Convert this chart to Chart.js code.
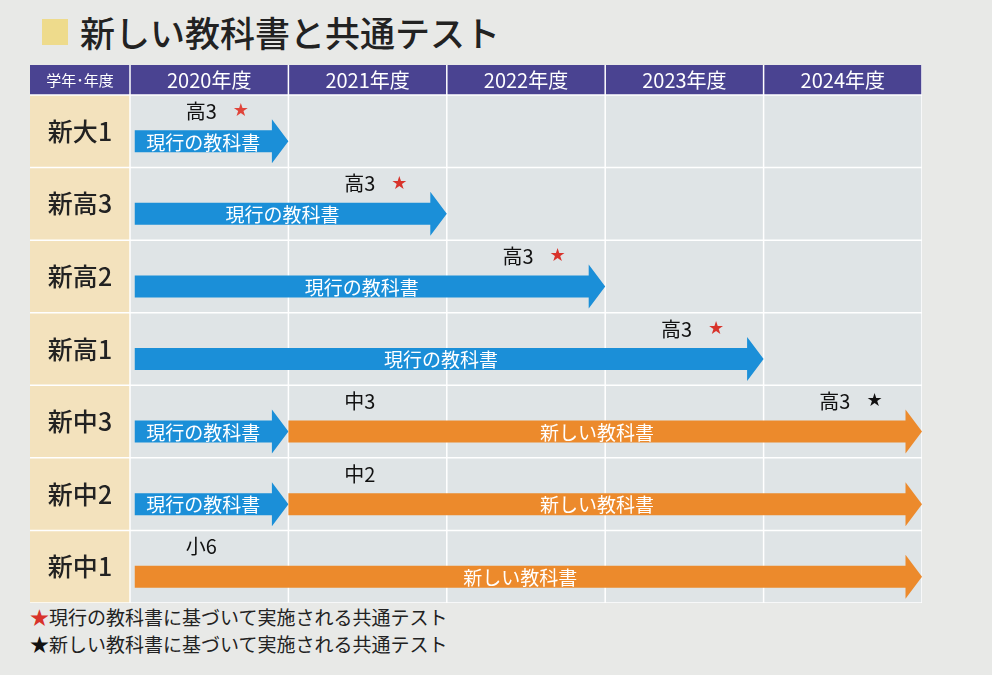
<!DOCTYPE html>
<html><head><meta charset="utf-8">
<script src="https://cdn.jsdelivr.net/npm/chart.js@4/dist/chart.umd.min.js"></script>
<style>
body{margin:0;background:#e8e9e7;font-family:"Noto Sans CJK JP",sans-serif;width:992px;height:675px;overflow:hidden;position:relative}
#title{position:absolute;left:42px;top:6px;font-size:35px;color:#222;display:flex;align-items:center;font-weight:500}
#title span.sq{display:inline-block;width:26px;height:26px;background:#eedb8c;margin-right:12px}
#wrap{position:absolute;left:30px;top:65px;width:892px;height:538px}
.note{position:absolute;left:30px;font-size:19px;color:#222}
</style></head><body>
<div id="title"><span class="sq"></span>新しい教科書と共通テスト</div>
<div id="wrap"><canvas id="c"></canvas></div>
<div class="note" style="top:603px"><span style="color:#d8332b">★</span>現行の教科書に基づいて実施される共通テスト</div>
<div class="note" style="top:630px"><span style="color:#111">★</span>新しい教科書に基づいて実施される共通テスト</div>
<script>
const rows=["新大1","新高3","新高2","新高1","新中3","新中2","新中1"];
const years=["2020年度","2021年度","2022年度","2023年度","2024年度"];
const headerCorner="学年･年度";
const currentBars=[[0.03,1],[0.03,2],[0.03,3],[0.03,4],[0.03,1],[0.03,1],null];
const newBars=[null,null,null,null,[1,5],[1,5],[0.03,5]];
const gradeLabels=["高3","高3","高3","高3","高3","中2","小6"];
const gradeLabelsMid=[null,null,null,null,"中3",null,null];
const gradeX=[0.45,1.45,2.45,3.45,4.45,1.45,0.45];
const starX=[0.7,1.7,2.7,3.7,4.7,null,null];
const starColor=["#e0443a","#d8332b","#d8332b","#d8332b","#111",null,null];
const midX=1.45;
const curText="現行の教科書", newText="新しい教科書";
const BLUE="#1b8fd8", ORANGE="#ec8a2c";

const plugin={id:"gantt",
beforeDatasetsDraw(ch){
  const {ctx,chartArea:a,scales:{x,y}}=ch;
  ctx.save();
  ctx.fillStyle="#dfe4e6";ctx.fillRect(a.left,a.top,a.right-a.left,a.bottom-a.top);
  ctx.fillStyle="#f3e2bd";ctx.fillRect(0,a.top,a.left,a.bottom-a.top);
  ctx.fillStyle="#4a4391";ctx.fillRect(0,0,a.right,a.top);
  ctx.strokeStyle="#ffffff";ctx.lineWidth=1.5;
  for(let i=0;i<=5;i++){const px=x.getPixelForValue(i);ctx.beginPath();ctx.moveTo(px,0);ctx.lineTo(px,a.bottom);ctx.stroke();}
  for(let i=0;i<=rows.length;i++){const py=a.top+(a.bottom-a.top)*i/rows.length;ctx.beginPath();ctx.moveTo(0,py);ctx.lineTo(a.right,py);ctx.stroke();}
  ctx.fillStyle="#fff";ctx.textAlign="center";ctx.textBaseline="middle";
  ctx.font="20px 'Noto Sans CJK JP'";
  years.forEach((t,i)=>ctx.fillText(t,x.getPixelForValue(i+0.5),a.top/2));
  ctx.font="15px 'Noto Sans CJK JP'";ctx.fillText(headerCorner,a.left/2,a.top/2);
  ctx.fillStyle="#222";ctx.font="500 25px 'Noto Sans CJK JP'";
  rows.forEach((r,i)=>ctx.fillText(r,a.left/2,y.getPixelForValue(i)));
  ctx.restore();
},
afterDatasetsDraw(ch){
  const {ctx,scales:{x,y}}=ch;
  ctx.save();
  ch.data.datasets.forEach((ds,di)=>{
    ch.getDatasetMeta(di).data.forEach((el,i)=>{
      if(!ds.data[i])return;
      const p=el.getProps(["x","y","base","height"],true);
      const h=p.height, yc=p.y+10, head=h*0.75;
      const xs=p.base, xe=p.x;
      ctx.fillStyle=ds.arrowColor;
      ctx.beginPath();
      ctx.moveTo(xs,yc-h/2);ctx.lineTo(xe-head,yc-h/2);ctx.lineTo(xe-head,yc-h);
      ctx.lineTo(xe,yc);ctx.lineTo(xe-head,yc+h);ctx.lineTo(xe-head,yc+h/2);ctx.lineTo(xs,yc+h/2);
      ctx.closePath();ctx.fill();
      ctx.fillStyle="#fff";ctx.font="19px 'Noto Sans CJK JP'";ctx.textAlign="center";ctx.textBaseline="middle";
      ctx.fillText(ds.label,(xs+xe-head)/2,yc+1);
    });
  });
  ctx.font="20px 'Noto Sans CJK JP'";ctx.textBaseline="middle";ctx.textAlign="center";
  rows.forEach((r,i)=>{
    const py=y.getPixelForValue(i)-20;
    ctx.fillStyle="#111";
    ctx.fillText(gradeLabels[i],x.getPixelForValue(gradeX[i]),py);
    if(gradeLabelsMid[i])ctx.fillText(gradeLabelsMid[i],x.getPixelForValue(midX),py);
    if(starX[i]!=null){ctx.fillStyle=starColor[i];ctx.font="18px 'DejaVu Sans'";ctx.fillText("★",x.getPixelForValue(starX[i]),py);ctx.font="20px 'Noto Sans CJK JP'";}
  });
  ctx.restore();
}};

new Chart(document.getElementById("c"),{type:"bar",
data:{labels:rows,datasets:[
 {label:curText,data:currentBars,arrowColor:BLUE,backgroundColor:"rgba(0,0,0,0)",grouped:false,barThickness:22},
 {label:newText,data:newBars,arrowColor:ORANGE,backgroundColor:"rgba(0,0,0,0)",grouped:false,barThickness:22}]},
options:{indexAxis:"y",responsive:true,maintainAspectRatio:false,animation:false,
 layout:{padding:{top:30,left:100}},
 plugins:{legend:{display:false},tooltip:{enabled:false}},
 scales:{x:{type:"linear",min:0,max:5,display:false},y:{display:false}}},
plugins:[plugin]});
</script></body></html>
